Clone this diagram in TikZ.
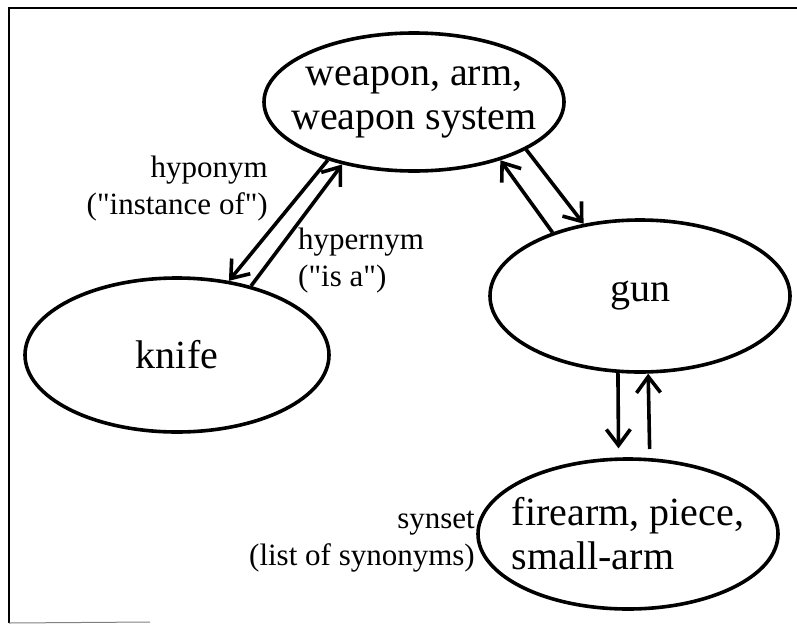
\documentclass[tikz,border=0pt]{standalone}
\usepackage{fontspec}
\setmainfont{Liberation Serif}
\usetikzlibrary{arrows.meta,shapes.geometric}
\newcommand\sq{\XeTeXglyph\XeTeXcharglyph"22\relax}
\begin{document}
\begin{tikzpicture}[x=1pt,y=-1pt,
  ell/.style={draw, ellipse, line width=3.6pt, inner sep=-40pt,
    font=\fontsize{40}{44}\selectfont, align=center},
  lbl/.style={inner sep=0pt, font=\fontsize{31}{37}\selectfont},
  rel/.style={line width=3.6pt, -{Straight Barb[length=16pt,width=24pt]}},
  frameline/.style={line width=2.5pt}]
\useasboundingbox (0,0) rectangle (797,624);
% frame
\coordinate (tr) at (797,8);
\coordinate (tl) at (9,8);
\coordinate (bl) at (9,623);
\coordinate (bm) at (150,622);
\draw[frameline] (tr) -- (tl) -- (bl);
\draw[gray, line width=1pt] (bl) -- (bm);
% nodes
\node[ell, minimum width=300pt, minimum height=138pt] (weapon) at (414,102) {weapon, arm,\\weapon system};
\node[ell, minimum width=304pt, minimum height=154pt] (knife) at (177,355) {knife};
\node[ell, minimum width=300pt, minimum height=152pt] (gun) at (640,296) {gun};
\node[ell, align=left, minimum width=300pt, minimum height=150pt] (firearm) at (628,534) {firearm, piece,\\small-arm};
% connectors
\draw[rel] (weapon.214) -- (knife.55.8);
\draw[rel] (knife.43.5) -- (weapon.221.9);
\draw[rel] (gun.144.6) -- (weapon.326);
\draw[rel] (weapon.337) -- (gun.128.5);
\draw[rel, shorten >=9pt] (gun.254) -- (firearm.97.6);
\draw[rel, shorten <=9pt] (firearm.74.9) -- (gun.276);
% labels
\node[lbl, anchor=east, align=right] (hypo) at (268,189) {hyponym\\(\sq instance of\sq)};
\node[lbl, anchor=west, align=left] (hyper) at (298,261) {hypernym\\(\sq is a\sq)};
\node[lbl, anchor=east, align=right] (syn) at (475,542) {synset\\(list of synonyms)};
\end{tikzpicture}
\end{document}
